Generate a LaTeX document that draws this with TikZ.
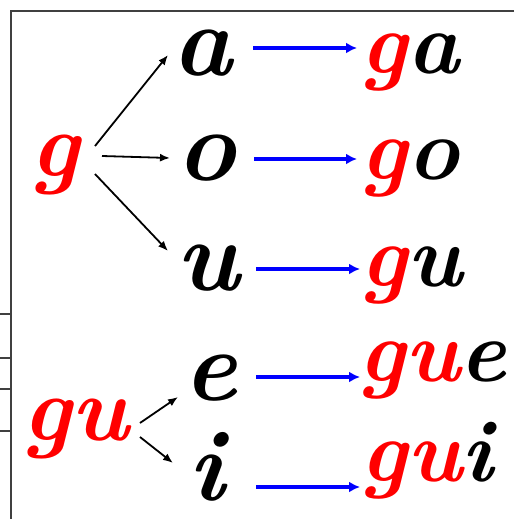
\documentclass[tikz,border=0pt]{standalone}
\usetikzlibrary{arrows.meta}
\begin{document}
\begin{tikzpicture}[x=1pt,y=-1pt,
  frame/.style={draw=black!75,line width=1.6pt},
  tickline/.style={draw=black!75,line width=1.2pt},
  midletter/.style={inner sep=0pt,anchor=base west,font=\fontsize{101}{101}\selectfont\bfseries\itshape},
  syll/.style={inner sep=0pt,anchor=base west,font=\fontsize{88}{88}\selectfont\bfseries\itshape},
  bigred/.style={inner sep=0pt,anchor=base west,text=red,font=\fontsize{92}{92}\selectfont\bfseries\itshape},
  blk/.style={draw=black,line width=1.8pt,-{Latex[length=10pt,width=8pt]}},
  blu/.style={draw=blue,line width=3.2pt,-{Latex[length=11pt,width=11pt]}}]
\useasboundingbox (0,0) rectangle (514,519);
% frame
\coordinate (fTL) at (11,11);
\coordinate (fTR) at (514,11);
\coordinate (fBL) at (11,519);
\draw[frame] (fTR) -- (fTL) -- (fBL);
\foreach \yy [count=\k] in {314,358,389,431}{
  \coordinate (tL\k) at (0,\yy);
  \coordinate (tR\k) at (11,\yy);
  \draw[tickline] (tL\k) -- (tR\k);
}
% left letters
\node[bigred] (g) at (30,176) {g};
\node[bigred] (gu) at (22,440) {gu};
% middle letters
\node[midletter] (a) at (172,75) {a};
\node[midletter] (o) at (176,180) {o};
\node[midletter] (u) at (176,290) {u};
\node[midletter] (e) at (183,400) {e};
\node[midletter] (i) at (188,500) {i};
% right syllables
\node[syll] (ga) at (360,74) {\textcolor{red}{g}a};
\node[syll] (go) at (360,179) {\textcolor{red}{g}o};
\node[syll] (gU) at (360,286) {\textcolor{red}{g}u};
\node[syll] (gue) at (358,381) {\textcolor{red}{gu}e};
\node[syll] (gui) at (360,481) {\textcolor{red}{gu}i};
% black arrow endpoints
\coordinate (g1) at (95,146);  \coordinate (a1) at (168,55);
\coordinate (g2) at (102,156); \coordinate (o1) at (170,158);
\coordinate (g3) at (95,174);  \coordinate (u1) at (168,251);
\coordinate (gu1) at (140,423); \coordinate (e1) at (178,397);
\coordinate (gu2) at (140,437); \coordinate (i1) at (173,463);
\draw[blk] (g1) -- (a1);
\draw[blk] (g2) -- (o1);
\draw[blk] (g3) -- (u1);
\draw[blk] (gu1) -- (e1);
\draw[blk] (gu2) -- (i1);
% blue arrows
\coordinate (b1s) at (253,48);  \coordinate (b1e) at (357,48);
\coordinate (b2s) at (254,159); \coordinate (b2e) at (357,159);
\coordinate (b3s) at (256,269); \coordinate (b3e) at (360,269);
\coordinate (b4s) at (256,377); \coordinate (b4e) at (360,377);
\coordinate (b5s) at (256,487); \coordinate (b5e) at (360,487);
\draw[blu] (b1s) -- (b1e);
\draw[blu] (b2s) -- (b2e);
\draw[blu] (b3s) -- (b3e);
\draw[blu] (b4s) -- (b4e);
\draw[blu] (b5s) -- (b5e);
\end{tikzpicture}
\end{document}
